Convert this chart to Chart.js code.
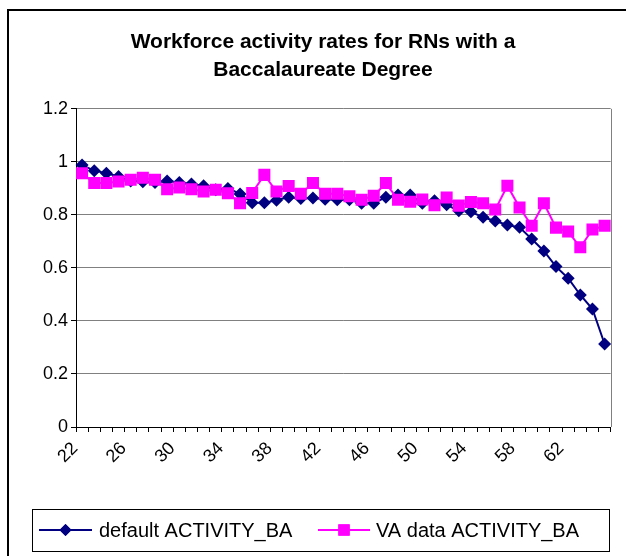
<!DOCTYPE html>
<html>
<head>
<meta charset="utf-8">
<script src="https://cdn.jsdelivr.net/npm/chart.js@4/dist/chart.umd.min.js"></script>
<style>
  html, body { margin: 0; padding: 0; background: #fff; }
  #wrap { width: 626px; height: 556px; position: relative; }
</style>
</head>
<body>
<div id="wrap"><canvas id="activity-graph" width="626" height="556"></canvas></div>
<script>
const ages = [
    22, 23, 24, 25, 26, 27, 28, 29, 30, 31, 32,
    33, 34, 35, 36, 37, 38, 39, 40, 41, 42, 43,
    44, 45, 46, 47, 48, 49, 50, 51, 52, 53, 54,
    55, 56, 57, 58, 59, 60, 61, 62, 63, 64, 65
]

// default ACTIVITY_BA (navy diamonds)
const defaultBA = [
    0.988, 0.967, 0.957, 0.945, 0.928, 0.925, 0.922, 0.928, 0.922, 0.917, 0.91,
    0.895, 0.9, 0.879, 0.846, 0.846, 0.855, 0.867, 0.862, 0.864, 0.859, 0.857,
    0.857, 0.844, 0.844, 0.867, 0.875, 0.875, 0.844, 0.853, 0.838, 0.816, 0.812,
    0.791, 0.777, 0.762, 0.753, 0.709, 0.664, 0.605, 0.561, 0.498, 0.445, 0.313
]

// VA data ACTIVITY_BA (magenta squares)
const vaBA = [
    0.957, 0.92, 0.92, 0.926, 0.933, 0.94, 0.933, 0.897, 0.903, 0.897, 0.888,
    0.895, 0.882, 0.844, 0.883, 0.951, 0.888, 0.909, 0.88, 0.92, 0.88, 0.88,
    0.87, 0.857, 0.872, 0.92, 0.857, 0.85, 0.858, 0.836, 0.866, 0.835, 0.849,
    0.844, 0.82, 0.91, 0.828, 0.759, 0.844, 0.752, 0.737, 0.678, 0.745, 0.759
]

const seriesNames = ["default ACTIVITY_BA", "VA data ACTIVITY_BA"]
const titleLines = ["Workforce activity rates for RNs with a", "Baccalaureate Degree"]

const FONT = "'Liberation Sans', Arial, sans-serif"
const NAVY = "#000080"
const PINK = "#FF00FF"

// frame around the chart, right edge of plot area and the boxed legend
const excelBits = {
    id: "excelBits",
    afterDraw(chart) {
        const ctx = chart.ctx
        const a = chart.chartArea
        ctx.save()
        // outer border (runs off the right/bottom of the picture)
        ctx.strokeStyle = "#000"
        ctx.lineWidth = 2
        ctx.strokeRect(8, 10, 700, 700)
        // plot area right edge
        ctx.strokeStyle = "#808080"
        ctx.lineWidth = 1
        ctx.beginPath()
        ctx.moveTo(Math.round(a.right) + 0.5, a.top)
        ctx.lineTo(Math.round(a.right) + 0.5, a.bottom)
        ctx.stroke()
        // legend box
        ctx.strokeStyle = "#000"
        ctx.strokeRect(32.5, 509.5, 577, 42)
        const ly = 530
        const items = [
            { x0: 39, x1: 92, color: NAVY, style: "rectRot", r: 6, tx: 99 },
            { x0: 318, x1: 370, color: PINK, style: "rect", r: 8, tx: 376 }
        ]
        items.forEach((it, i) => {
            ctx.strokeStyle = it.color
            ctx.lineWidth = 2
            ctx.beginPath()
            ctx.moveTo(it.x0, ly)
            ctx.lineTo(it.x1, ly)
            ctx.stroke()
            ctx.fillStyle = it.color
            Chart.helpers.drawPoint(ctx, { pointStyle: it.style, radius: it.r, borderWidth: 0 }, (it.x0 + it.x1) / 2, ly)
            ctx.fill()
            ctx.fillStyle = "#000"
            ctx.font = "20px " + FONT
            ctx.textBaseline = "middle"
            ctx.textAlign = "left"
            ctx.fillText(seriesNames[i], it.tx, ly + 1)
        })
        ctx.restore()
    }
}

new Chart(document.getElementById("activity-graph"), {
    type: "line",
    data: {
        labels: ages,
        datasets: [
            {
                label: seriesNames[0],
                data: defaultBA,
                borderColor: NAVY,
                backgroundColor: NAVY,
                borderWidth: 2,
                pointStyle: "rectRot",
                pointRadius: 6.5,
                pointBorderWidth: 0,
                fill: false,
                order: 1
            },
            {
                label: seriesNames[1],
                data: vaBA,
                borderColor: PINK,
                backgroundColor: PINK,
                borderWidth: 2,
                pointStyle: "rect",
                pointRadius: 8.5,
                pointBorderWidth: 0,
                fill: false,
                order: 0
            }
        ]
    },
    options: {
        responsive: false,
        animation: false,
        layout: { padding: { left: 30, right: 10, top: 0, bottom: 49 } },
        scales: {
            x: {
                type: "category",
                offset: true,
                grid: {
                    offset: true,
                    drawOnChartArea: false,
                    drawTicks: true,
                    tickLength: 5,
                    color: "#000"
                },
                border: { color: "#000", width: 1 },
                ticks: {
                    autoSkip: false,
                    minRotation: 45,
                    maxRotation: 45,
                    padding: 6,
                    labelOffset: -7,
                    color: "#000",
                    font: { family: FONT, size: 18 },
                    callback: function (v, i) { return i % 4 === 0 ? String(ages[i]) : "" }
                },
                afterFit: function (s) { s.height = 80 }
            },
            y: {
                min: 0,
                max: 1.2,
                ticks: {
                    stepSize: 0.2,
                    padding: 3,
                    color: "#000",
                    font: { family: FONT, size: 18 },
                    callback: function (v) { return String(Math.round(v * 10) / 10) }
                },
                grid: { color: "#808080", tickLength: 5, tickColor: "#000" },
                border: { color: "#000", width: 1 },
                afterFit: function (s) { s.width = 46 }
            }
        },
        plugins: {
            title: {
                display: true,
                text: titleLines,
                color: "#000",
                font: { family: FONT, size: 21, weight: "bold", lineHeight: 1.33 },
                padding: { top: 28, bottom: 25 }
            },
            legend: { display: false },
            tooltip: { enabled: false }
        }
    },
    plugins: [excelBits]
})
</script>
</body>
</html>
